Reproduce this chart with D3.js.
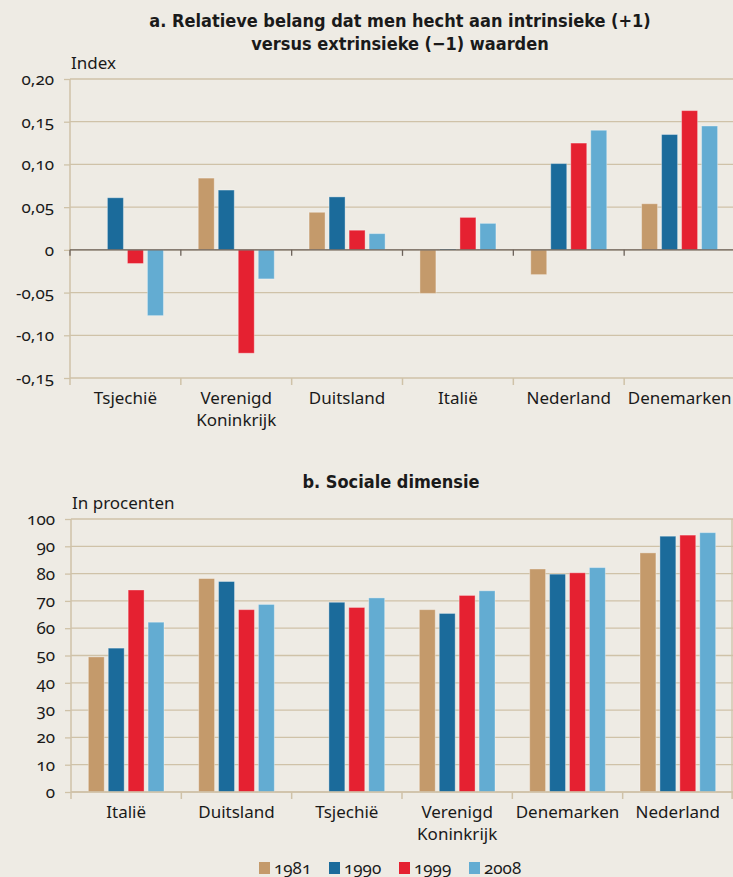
<!DOCTYPE html>
<html>
<head>
<meta charset="utf-8">
<script src="https://cdn.jsdelivr.net/npm/d3@7"></script>
<style>
  body { margin: 0; background: #eeebe4; }
  svg { display: block; }
  text { font-family: "Noto Sans", sans-serif; fill: #1a1a1a; font-variant-numeric: oldstyle-nums; }
  .title { font-family: "Liberation Sans Narrow", "DejaVu Sans Condensed", sans-serif; font-weight: bold; font-size: 18px; }
</style>
</head>
<body>
<svg id="chart" width="733" height="877"></svg>
<script>
const years = ["1981", "1990", "1999", "2008"];
const colors = ["#c49a6b", "#1b6b9b", "#e52131", "#63acd2"];

// a. intrinsiek vs extrinsiek (index)
const countriesA = ["Tsjechië", "Verenigd Koninkrijk", "Duitsland", "Italië", "Nederland", "Denemarken"];
const v1981A = [null, 0.084, 0.044, -0.051, -0.029, 0.054];
const v1990A = [0.061, 0.070, 0.062, 0.001, 0.101, 0.135];
const v1999A = [-0.016, -0.121, 0.023, 0.038, 0.125, 0.163];
const v2008A = [-0.077, -0.034, 0.019, 0.031, 0.140, 0.145];
const ticksA = [-0.15, -0.10, -0.05, 0, 0.05, 0.10, 0.15, 0.20];

// b. sociale dimensie (procenten)
const countriesB = ["Italië", "Duitsland", "Tsjechië", "Verenigd Koninkrijk", "Denemarken", "Nederland"];
const v1981B = [49.5, 78.2, null, 66.8, 81.7, 87.6];
const v1990B = [52.7, 77.1, 69.5, 65.4, 79.8, 93.7];
const v1999B = [74.0, 66.8, 67.6, 72.0, 80.3, 94.1];
const v2008B = [62.2, 68.7, 71.1, 73.7, 82.2, 95.0];
const ticksB = [0, 10, 20, 30, 40, 50, 60, 70, 80, 90, 100];

const svg = d3.select("#chart");
const grid = "#cfc2a8";
const fmtA = d => d === 0 ? "0" : d3.format(".2f")(d).replace(".", ",").replace("−", "-");

function drawPanel(cfg) {
  const g = svg.append("g");
  const x0 = d3.scaleBand().domain(cfg.countries).range([cfg.left, cfg.right]);
  const x1 = d3.scaleBand().domain(years).range([0, x0.bandwidth()])
    .paddingInner(0.2).paddingOuter(0.87);
  const y = d3.scaleLinear().domain(cfg.domain).range([cfg.bottom, cfg.top]);

  // gridlines
  g.append("g").selectAll("line").data(cfg.ticks).join("line")
    .attr("x1", cfg.left).attr("x2", 733)
    .attr("y1", d => y(d)).attr("y2", d => y(d))
    .attr("stroke", grid).attr("stroke-width", 1.3);

  // y axis
  const ya = g.append("g").attr("transform", `translate(${cfg.left},0)`)
    .call(d3.axisLeft(y).tickValues(cfg.ticks).tickFormat(cfg.fmt).tickSize(6).tickPadding(10));
  ya.select(".domain").remove();
  ya.selectAll("line").attr("stroke", grid).attr("stroke-width", 1.3);
  ya.selectAll("text").style("font-size", "17px").attr("fill", "#1a1a1a");
  g.append("line").attr("x1", cfg.left).attr("x2", cfg.left)
    .attr("y1", y(cfg.domain[1])).attr("y2", cfg.bottom + 7)
    .attr("stroke", grid).attr("stroke-width", 1.5);

  // bottom category ticks
  const bounds = cfg.countries.map(c => x0(c)).slice(1).concat([cfg.right]);
  g.append("g").selectAll("line").data(bounds).join("line")
    .attr("x1", d => d).attr("x2", d => d)
    .attr("y1", cfg.bottom).attr("y2", cfg.bottom + 7)
    .attr("stroke", grid).attr("stroke-width", 1.5);

  // bars
  const series = [cfg.s1981, cfg.s1990, cfg.s1999, cfg.s2008];
  const rows = [];
  cfg.countries.forEach((c, i) => years.forEach((yr, j) => {
    if (series[j][i] !== null) rows.push({ c, yr, v: series[j][i], col: colors[j] });
  }));
  g.append("g").selectAll("rect").data(rows).join("rect")
    .attr("x", d => x0(d.c) + x1(d.yr))
    .attr("width", x1.bandwidth())
    .attr("y", d => y(Math.max(0, d.v)))
    .attr("height", d => Math.max(1, Math.abs(y(d.v) - y(0))))
    .attr("fill", d => d.col)
    .attr("stroke", "rgba(255,255,255,0.35)").attr("stroke-width", 1);

  // zero line (panel a)
  if (cfg.zeroLine) {
    g.append("line").attr("x1", cfg.left).attr("x2", 733)
      .attr("y1", y(0)).attr("y2", y(0)).attr("stroke", "#6c625a").attr("stroke-width", 1.3);
    g.append("g").selectAll("line").data(cfg.countries.map(c => x0(c))).join("line")
      .attr("x1", d => d).attr("x2", d => d)
      .attr("y1", y(0)).attr("y2", y(0) + 6)
      .attr("stroke", "#6c625a").attr("stroke-width", 1.3);
  } else {
    g.append("line").attr("x1", cfg.left).attr("x2", 733)
      .attr("y1", y(0)).attr("y2", y(0)).attr("stroke", grid).attr("stroke-width", 1.5);
    g.append("line").attr("x1", 732).attr("x2", 732)
      .attr("y1", y(cfg.domain[1])).attr("y2", cfg.bottom + 7)
      .attr("stroke", grid).attr("stroke-width", 1.3);
  }

  // category labels (two-line names as separate text lines)
  const labels = [];
  cfg.countries.forEach(d => {
    const parts = d === "Verenigd Koninkrijk" ? ["Verenigd", "Koninkrijk"] : [d];
    parts.forEach((p, k) => labels.push({ x: x0(d) + x0.bandwidth() / 2, k, p }));
  });
  g.append("g").selectAll("text").data(labels).join("text")
    .attr("x", d => d.x)
    .attr("y", d => cfg.bottom + 26 + d.k * 22)
    .attr("text-anchor", "middle")
    .style("font-size", "17px")
    .text(d => d.p);

  // unit label
  g.append("text").attr("x", cfg.left + 1).attr("y", y(cfg.domain[1]) - 10)
    .style("font-size", "17px").text(cfg.unit);

  // title
  const tt = g.append("text").attr("class", "title").attr("text-anchor", "middle");
  cfg.title.forEach((line, k) => tt.append("tspan")
    .attr("x", cfg.titleX).attr("y", cfg.titleY + k * 23).text(line));
}

drawPanel({
  countries: countriesA, s1981: v1981A, s1990: v1990A, s1999: v1999A, s2008: v2008A,
  domain: [-0.15, 0.20], ticks: ticksA, fmt: fmtA,
  left: 70, right: 735, top: 79, bottom: 378, zeroLine: true,
  unit: "Index",
  title: ["a. Relatieve belang dat men hecht aan intrinsieke (+1)", "versus extrinsieke (\u22121) waarden"],
  titleX: 400, titleY: 27
});

drawPanel({
  countries: countriesB, s1981: v1981B, s1990: v1990B, s1999: v1999B, s2008: v2008B,
  domain: [0, 100], ticks: ticksB, fmt: d3.format("d"),
  left: 71, right: 733, top: 519, bottom: 792, zeroLine: false,
  unit: "In procenten",
  title: ["b. Sociale dimensie"],
  titleX: 391, titleY: 488
});

// legend
const leg = svg.append("g").attr("transform", "translate(259,862)")
  .selectAll("g").data(years).join("g")
  .attr("transform", (d, i) => `translate(${i * 70},0)`);
leg.append("rect").attr("width", 11).attr("height", 12).attr("fill", (d, i) => colors[i]);
leg.append("text").attr("x", 15).attr("y", 11.5).style("font-size", "17px").text(d => d);
</script>
</body>
</html>
